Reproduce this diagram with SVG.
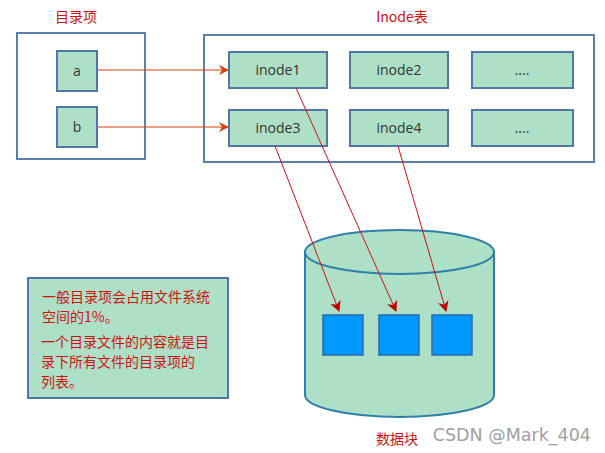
<svg xmlns="http://www.w3.org/2000/svg" width="605" height="453" viewBox="0 0 605 453">
<style>
.frame{fill:#fff;stroke:#5b80aa;stroke-width:2}
.cell{fill:#aee0c8;stroke:#4f78a8;stroke-width:2}
.t{font-family:"Open Sans","Noto Sans CJK SC",sans-serif;font-size:14px;fill:#333;text-anchor:middle}
.r{font-family:"Noto Sans CJK SC",sans-serif;font-size:14px;fill:#d01010}
.blk{fill:#0099ff;stroke:#2a6aa8;stroke-width:1.5}
.ln{stroke:#d01010;stroke-width:1;fill:none;marker-end:url(#ah)}
.ln2{stroke:#d84010;stroke-width:1.2;fill:none;marker-end:url(#ah2)}
</style>
<defs>
<marker id="ah" viewBox="0 0 10 10" refX="9" refY="5" markerWidth="11" markerHeight="11" markerUnits="userSpaceOnUse" orient="auto"><path d="M0,0 L10,5 L0,10 L3,5 z" fill="#c00000"/></marker>
<marker id="ah2" viewBox="0 0 10 10" refX="9" refY="5" markerWidth="10" markerHeight="10" markerUnits="userSpaceOnUse" orient="auto"><path d="M0,0 L10,5 L0,10 L3,5 z" fill="#d84010"/></marker>
</defs>
<text class="r" x="76" y="22" text-anchor="middle">目录项</text>
<text class="r" x="402" y="22" text-anchor="middle">Inode表</text>
<g id="dir"><rect class="frame" x="17" y="33" width="128" height="126"/></g>
<g id="a"><rect class="cell" x="57" y="51" width="40" height="40"/><text class="t" x="77" y="76">a</text></g>
<g id="b"><rect class="cell" x="57" y="107" width="40" height="40"/><text class="t" x="77" y="132">b</text></g>
<g id="itable"><rect class="frame" x="204" y="35" width="390" height="127"/></g>
<g id="inode1"><rect class="cell" x="229" y="52" width="98" height="36"/><text class="t" x="278" y="75">inode1</text></g>
<g id="inode2"><rect class="cell" x="350" y="52" width="98" height="36"/><text class="t" x="399" y="75">inode2</text></g>
<g id="dots1"><rect class="cell" x="472" y="52" width="101" height="36"/><text class="t" x="522" y="75">....</text></g>
<g id="inode3"><rect class="cell" x="229" y="110" width="98" height="36"/><text class="t" x="278" y="133">inode3</text></g>
<g id="inode4"><rect class="cell" x="350" y="110" width="98" height="36"/><text class="t" x="399" y="133">inode4</text></g>
<g id="dots2"><rect class="cell" x="472" y="110" width="101" height="36"/><text class="t" x="522" y="133">....</text></g>
<g id="cyl">
<path d="M305,252 L305,395 A94.5,22 0 0 0 494,395 L494,252" fill="#aee0c8" stroke="#2f80a8" stroke-width="2"/>
<ellipse cx="399.5" cy="252" rx="94.5" ry="22" fill="#aee0c8" stroke="#2f80a8" stroke-width="2"/>
<rect class="blk" x="323" y="315" width="40" height="40"/>
<rect class="blk" x="379" y="315" width="40" height="40"/>
<rect class="blk" x="432" y="315" width="40" height="40"/>
<text class="r" x="397" y="444" text-anchor="middle">数据块</text>
</g>
<g id="note"><rect x="28" y="278" width="200" height="120" fill="#aee0c8" stroke="#4f78a8" stroke-width="2"/>
<text class="r" x="42" y="302">一般目录项会占用文件系统</text>
<text class="r" x="42" y="322">空间的1%。</text>
<text class="r" x="41" y="347">一个目录文件的内容就是目</text>
<text class="r" x="41" y="367">录下所有文件的目录项的</text>
<text class="r" x="41" y="387">列表。</text>
</g>
<g id="connectors">
<line class="ln2" x1="97" y1="70" x2="228" y2="70"/>
<line class="ln2" x1="97" y1="127" x2="228" y2="127"/>
<line class="ln" x1="296" y1="88" x2="396" y2="311"/>
<line class="ln" x1="275" y1="146" x2="339" y2="311"/>
<line class="ln" x1="398" y1="146" x2="446" y2="311"/>
</g>
<text x="591" y="441" text-anchor="end" font-family="DejaVu Sans,sans-serif" font-size="17.5" fill="#a0a0a0">CSDN @Mark_404</text>
</svg>
